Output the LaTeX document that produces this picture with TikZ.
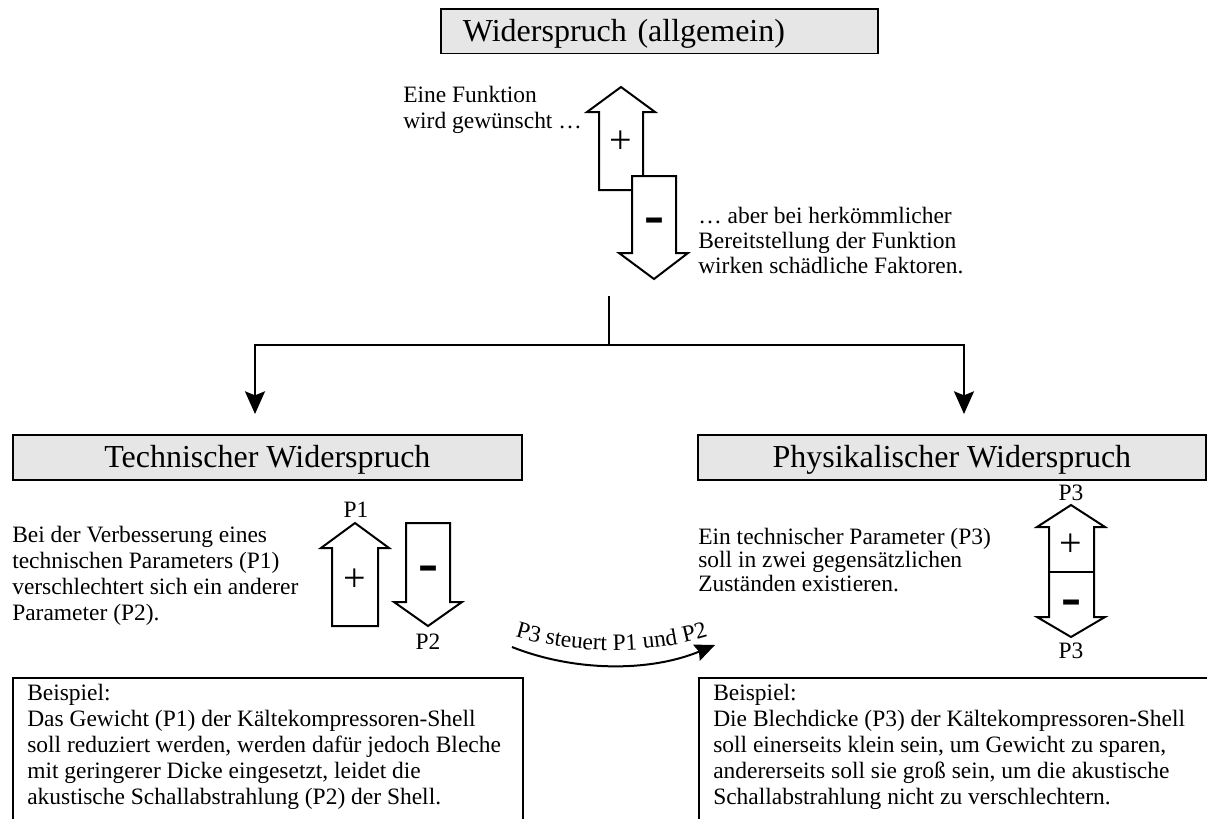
\documentclass[tikz,border=0pt]{standalone}
\usepackage{fontspec}
\setmainfont{Liberation Serif}
\newfontfamily\signfont{DejaVu Sans}
\usetikzlibrary{arrows.meta,decorations.text}

\definecolor{boxgray}{HTML}{E6E6E6}
\newcommand\headfont{\fontsize{24pt}{28pt}\selectfont}
\newcommand\bodyfont{\fontsize{17.6pt}{19.5pt}\selectfont}

\tikzset{
  headbox/.style={draw, line width=1.3pt, fill=boxgray, inner sep=0pt,
    font=\headfont, text height=15.9pt, text depth=0pt, minimum height=33.5pt,
    anchor=north west},
  txt/.style={font=\bodyfont, inner sep=0pt, anchor=base west},
  lbl/.style={font=\bodyfont, inner sep=0pt, anchor=base},
  plussign/.style={font=\fontsize{30pt}{30pt}\selectfont, inner sep=0pt},
  minussign/.style={font=\signfont\bfseries\fontsize{30pt}{30pt}\selectfont,
    inner sep=0pt, yshift=-6pt},
  blockarrow/.style={draw, line width=1.5pt, fill=white, line join=miter},
  treeline/.style={line width=1.5pt},
  treearrow/.style={line width=1.5pt, -{Stealth[length=17pt,width=15pt,inset=3pt]}},
  curvearrow/.style={line width=1.5pt, -{Stealth[length=15pt,width=13pt,inset=2pt]}},
  examplebox/.style={draw, line width=1pt},
}

\begin{document}
\begin{tikzpicture}[x=0.75pt,y=-0.75pt]
\useasboundingbox (0,0) rectangle (1207,818);
\clip (0,0) rectangle (1207,818);

% ---------- general contradiction ----------
\node[headbox, text width=294.75pt, inner xsep=16.5pt, align=left] (general) at (440,8) {Widerspruch (allgemein)};

\node[txt] (want1) at (403,102) {Eine Funktion};
\node[txt] (want2) at (403,128) {wird gewünscht …};

% up arrow (+)
\draw[blockarrow] (621,87) -- (655,112) -- (643,112) -- (643,190) -- (599,190)
  -- (599,112) -- (587,112) -- cycle;
\node[plussign] (gplus) at (621,142) {+};
% down arrow (-), lying over the up arrow
\draw[blockarrow] (632,176) -- (676,176) -- (676,253) -- (688,253) -- (654,279)
  -- (619,253) -- (632,253) -- cycle;
\node[minussign] (gminus) at (654,217) {–};

\node[txt] (harm1) at (698,223) {… aber bei herkömmlicher};
\node[txt] (harm2) at (698,248) {Bereitstellung der Funktion};
\node[txt] (harm3) at (698,273) {wirken schädliche Faktoren.};

% ---------- branching ----------
\coordinate (split) at (609,296);
\coordinate (fork) at (609,345);
\coordinate (ltip) at (255,414);
\coordinate (rtip) at (964,414);
\draw[treeline] (split) -- (fork);
\draw[treearrow] (fork) -| (ltip);
\draw[treearrow] (fork) -| (rtip);

% ---------- technical contradiction ----------
\node[headbox, minimum width=381.75pt, minimum height=33.75pt] (tech) at (12,434) {Technischer Widerspruch};

\node[txt] (t1) at (12,542) {Bei der Verbesserung eines};
\node[txt] (t2) at (12,568) {technischen Parameters (P1)};
\node[txt] (t3) at (12,594) {verschlechtert sich ein anderer};
\node[txt] (t4) at (12,620) {Parameter (P2).};

\draw[blockarrow] (355,523) -- (389,548) -- (378,548) -- (378,626) -- (332,626)
  -- (332,548) -- (321,548) -- cycle;
\node[plussign] (p1plus) at (355,580) {+};
\node[lbl] (p1) at (356,517) {P1};

\draw[blockarrow] (406,523) -- (450,523) -- (450,602) -- (462,602) -- (428,626)
  -- (394,602) -- (406,602) -- cycle;
\node[minussign] (p2minus) at (428,565) {–};
\node[lbl] (p2) at (428,649) {P2};

% ---------- physical contradiction ----------
\node[headbox, minimum width=381pt, minimum height=33.75pt] (phys) at (697,434) {Physikalischer Widerspruch};

\node[txt] (r1) at (698,544) {Ein technischer Parameter (P3)};
\node[txt] (r2) at (698,567) {soll in zwei gegensätzlichen};
\node[txt] (r3) at (698,591) {Zuständen existieren.};

\draw[blockarrow] (1071,505) -- (1105,527) -- (1094,527) -- (1094,617) -- (1105,617)
  -- (1071,637) -- (1037,617) -- (1049,617) -- (1049,527) -- (1037,527) -- cycle;
\draw[line width=1.5pt] (1049,572) -- (1094,572);
\node[plussign] (p3plus) at (1071,545) {+};
\node[minussign] (p3minus) at (1071,599) {–};
\node[lbl] (p3top) at (1071,500) {P3};
\node[lbl] (p3bot) at (1071,658) {P3};

% ---------- P3 controls P1 and P2 ----------
\coordinate (cs) at (512,647);
\coordinate (ce) at (715,645);
\draw[curvearrow] (cs) .. controls (575,672) and (650,672) .. (ce);
\path[decorate, decoration={text along path, text align=center,
  text={|\bodyfont|P3 steuert P1 und P2}}]
  (513,636) .. controls (575,655) and (648,655) .. (710,636);

% ---------- examples ----------
\draw[examplebox] (13,830) |- (523,678) -- (523,830);
\node[txt] (e1) at (27,700) {Beispiel:};
\node[txt] (e2) at (27,726) {Das Gewicht (P1) der Kältekompressoren-Shell};
\node[txt] (e3) at (27,752) {soll reduziert werden, werden dafür jedoch Bleche};
\node[txt] (e4) at (27,778) {mit geringerer Dicke eingesetzt, leidet die};
\node[txt] (e5) at (27,804) {akustische Schallabstrahlung (P2) der Shell.};

\draw[examplebox] (699,830) |- (1220,678);
\node[txt] (f1) at (713,700) {Beispiel:};
\node[txt] (f2) at (713,726) {Die Blechdicke (P3) der Kältekompressoren-Shell};
\node[txt] (f3) at (713,752) {soll einerseits klein sein, um Gewicht zu sparen,};
\node[txt] (f4) at (713,778) {andererseits soll sie groß sein, um die akustische};
\node[txt] (f5) at (713,804) {Schallabstrahlung nicht zu verschlechtern.};
\end{tikzpicture}
\end{document}
